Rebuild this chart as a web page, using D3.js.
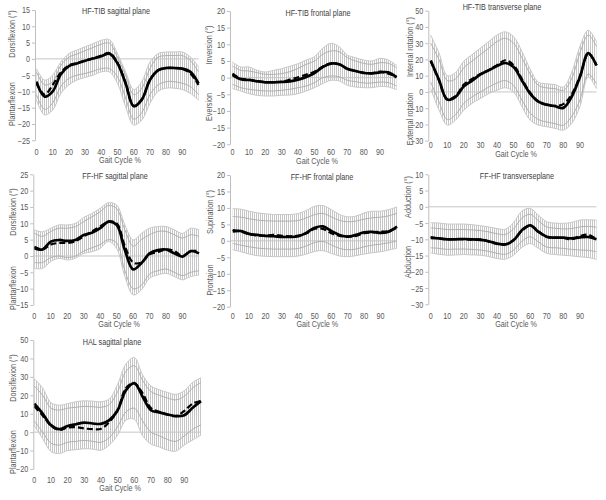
<!DOCTYPE html>
<html><head><meta charset="utf-8">
<script src="https://cdn.jsdelivr.net/npm/d3@7"></script>
<style>
body{margin:0;background:#fff}
svg{display:block}
text{font-family:"Liberation Sans",Arial,sans-serif}
</style>
</head><body>
<svg id="c" width="606" height="500"></svg>
<script>
// ---------- DATA ----------
const gaitCycle = [0,5,10,15,20,25,30,35,40,45,50,55,60,65,70,75,80,85,90,95,100];
const xTickLabels = [0,10,20,30,40,50,60,70,80,90];

// HF-TIB sagittal
const hfTibSagSolid  = [-7,-11.6,-10,-4.7,-2.2,-1.4,-0.6,0.1,0.8,1.6,-1.4,-7.5,-14.5,-12.5,-6.5,-3.5,-2.8,-2.8,-3,-4,-7.5];
const hfTibSagDashed = [-7.5,-11,-8,-4.2,-2,-1.3,-0.5,0.2,1.0,1.8,-1.2,-7.5,-14.5,-12.5,-6.5,-3.5,-2.8,-2.8,-3,-4.5,-8];
const hfTibSagUpper  = [-3,-6.5,-5,-1,1.6,2.7,3.7,4.7,5.7,5.9,1.6,-4,-9.4,-7,-1,1.6,2.1,2.1,2.1,0.6,-2.4];
const hfTibSagLower  = [-12.7,-17.2,-15.7,-10.6,-8,-6.5,-5.7,-5,-4,-4,-7.5,-14.7,-20.3,-18.8,-13.7,-10,-9,-9,-9.4,-10.6,-12.7];
const hfTibSagInUp   = [-4,-8,-7,-2,0.5,1.5,2.5,3.5,4.5,4.8,0.5,-5,-11,-9,-3,0.5,1,1,1,-0.5,-4];
const hfTibSagInLo   = [-11,-15.5,-13.5,-8.5,-6,-5,-4.5,-3.8,-3,-3,-5.5,-12,-18.5,-16.5,-11,-8,-7,-7,-7.5,-8.5,-11];

// HF-TIB frontal
const hfTibFroSolid  = [0.8,-0.5,-0.7,-1.1,-1.4,-1.4,-1.3,-1.1,-0.6,0.2,1.4,3.2,4.2,4.0,2.7,2.0,1.4,1.3,1.6,1.6,0.1];
const hfTibFroDashed = [1.2,-0.3,-0.6,-1.0,-1.3,-1.3,-1.2,-0.6,0.1,0.9,1.8,3.3,4.3,4.0,2.6,2.0,1.5,1.3,1.8,1.2,0.3];
const hfTibFroUpper  = [4.7,3.2,3.2,2.2,1.7,2.2,2.7,3.4,4.2,5.3,6.3,8.8,10.3,9.3,6.8,6,5.3,5,5.8,5.3,3.7];
const hfTibFroLower  = [-3.3,-4,-4.8,-5.3,-5.5,-5.5,-5.3,-5.2,-4.8,-4,-3,-1.8,-0.8,-1,-2.3,-2.8,-3,-3,-2.6,-2.8,-3.6];
const hfTibFroInUp   = [3.5,2.2,2,1.5,1,1,1.2,1.8,2.8,4,5,7,8,7.8,6,5,4.3,4,4.5,4.3,3];
const hfTibFroInLo   = [-2,-3,-3.5,-3.8,-4,-4,-3.8,-3.5,-3,-2.5,-1.5,0,0.5,0.3,-0.8,-1.2,-1.6,-1.6,-1.3,-1.5,-2.5];

// HF-TIB transverse
const hfTibTraSolid  = [19.4,7.5,-4.7,-3,3.5,7,10.8,13.3,16,17.8,15.3,7.1,-1,-6,-7.8,-8.8,-9.8,-3,9.2,23.9,16.3];
const hfTibTraDashed = [19,7,-4.5,-2.5,4.5,8,11,13.5,16.5,19.5,16.5,8,-0.5,-6,-8,-8.5,-7.5,-1.5,9.5,23.5,16.5];
const hfTibTraUpper  = [35,24,10,12,19,23,27,31,35,37,34,25,14,6,5,4.5,3,12,28,38,31];
const hfTibTraLower  = [2,-11,-20.4,-17.3,-11.2,-7,-4,-1,1,2.6,0,-9,-17.3,-20.4,-21.4,-22.4,-23.5,-19.4,-9,9.2,2];
const hfTibTraInUp   = [30,20,7,8,15,19,23,27,31,33,30,21,11,4,2.5,2,1,8,24,35,28];
const hfTibTraInLo   = [6,-6,-17,-14,-7,-3,0,3,5.5,7,4,-5,-13,-17,-18.5,-19.5,-20.5,-15,-5,11,5];

// FF-HF sagittal
const ffHfSagSolid  = [2.4,2.0,4.4,4.9,4.6,4.9,6.4,7.1,8.5,10.5,9.5,1.8,-4.1,-2.2,0.8,1.8,2,0.8,-0.2,1.5,0.8];
const ffHfSagDashed = [2.8,2,3.5,4,4,4.5,6,7.5,9,10.5,10,3,-2,-2,0.5,1.2,2,1.5,0,1.5,1.5];
const ffHfSagUpper  = [8,7.4,8.5,9.5,9.5,10,11.8,13,14.6,16.3,15.6,9.5,4.9,6.9,8.5,9,9,8,6.9,8.5,8];
const ffHfSagLower  = [-3.8,-3.8,-1.7,-0.7,-1.2,-0.7,0.8,1.3,2.3,4.4,2.3,-6.3,-11.9,-10.4,-6.8,-5.8,-5.3,-6.3,-7.3,-6.3,-5.8];
const ffHfSagInUp   = [7,6,7.5,8.5,8.5,9,10.5,12,13.5,15.5,14.5,8,3,5,6.5,7.5,7.5,6.5,5.5,6.5,6];
const ffHfSagInLo   = [-2,-2,-0.5,0,-0.5,0,1.5,2.5,3.5,5,4,-4.5,-10,-9,-5.5,-4.5,-4,-5,-6,-5,-4.5];

// FF-HF frontal
const ffHfFroSolid  = [2.9,3.0,2.1,1.8,1.5,1.4,1.2,1.2,1.4,2.5,4.0,4.4,3.0,1.8,1.3,1.8,2.6,2.7,2.4,2.8,4.3];
const ffHfFroDashed = [3.3,2.8,2.0,1.6,1.6,1.8,1.5,1.4,1.6,2.3,3.7,3.6,2.3,1.5,1.3,1.5,2.3,2.6,2.8,3.0,4.0];
const ffHfFroUpper  = [9.8,9.6,9,8.5,8.2,8,8,8,8.3,9.3,10.5,10.7,9.5,8,7.3,7.5,8.5,9,9,9.5,10.3];
const ffHfFroLower  = [-2.7,-3.3,-4,-4.5,-4.7,-4.8,-4.8,-4.8,-4.6,-4,-3.2,-3,-3.8,-4.6,-4.8,-4.5,-4,-3.6,-3.3,-2.8,-2.2];
const ffHfFroInUp   = [7.4,7.2,6.7,6.3,6.1,6,6,6,6.2,7,8,8.3,7.3,6.2,5.8,6,6.6,7,7.2,7.6,8.4];
const ffHfFroInLo   = [-0.8,-1.3,-1.8,-2.2,-2.4,-2.5,-2.5,-2.5,-2.3,-1.5,-0.5,-0.2,-1.2,-2.3,-2.7,-2.5,-1.8,-1.3,-1,-0.6,0];

// FF-HF transverse
const ffHfTraSolid  = [-9.6,-9.7,-10,-10,-9.9,-10,-10.2,-10.6,-11.3,-11.6,-10.3,-7.2,-5.7,-7.7,-9.2,-9.5,-9.5,-9.7,-9.4,-9.3,-10];
const ffHfTraDashed = [-9.3,-9.7,-10,-9.9,-10,-10.1,-10,-10.7,-11.4,-11.5,-10.2,-7.4,-5.8,-7.6,-9.3,-9.5,-9.6,-10,-9.0,-8.6,-10];
const ffHfTraUpper  = [-4.9,-5,-5.3,-5.3,-5.3,-5.5,-5.8,-6.2,-6.7,-6.9,-4.8,-1.3,-0.5,-2.6,-4.6,-5,-5.1,-4.8,-4.1,-4,-4.1];
const ffHfTraLower  = [-14.2,-14.6,-14.9,-14.8,-14.7,-14.8,-14.9,-15.3,-15.9,-16.1,-14.9,-12.5,-11.3,-12.8,-14.3,-14.7,-14.9,-15.1,-15.4,-15.6,-16.2];
const ffHfTraInUp   = [-6.5,-6.7,-7,-7,-7,-7.1,-7.3,-7.7,-8.3,-8.5,-6.8,-3.5,-2.3,-4.3,-6.2,-6.6,-6.8,-6.7,-6.2,-6,-6.3];
const ffHfTraInLo   = [-12.6,-12.8,-13.1,-13,-13,-13.1,-13.3,-13.7,-14.3,-14.6,-13.3,-10.6,-9.2,-10.8,-12.4,-12.6,-12.8,-13.1,-13.3,-13.4,-13.8];

// HAL sagittal
const halSagSolid  = [15.5,10.1,3.8,1.6,3.3,4.3,5.2,4.7,4.5,6.5,11.9,22.8,26.6,19.2,11.9,10.7,9.6,8.7,9.2,13.2,16.8];
const halSagDashed = [14,9,3.5,1.2,2.5,2.7,2,1.6,1.8,5.5,12,24,26.5,21,13,11,9.5,8.7,11.5,15.5,17];
const halSagUpper  = [29,24,16,14.6,15.5,16.5,17,16.8,16.5,18,26,37,40.5,31,25,23,21.5,20.5,22.5,27,29.5];
const halSagLower  = [3.5,-3.5,-10.5,-11.6,-10,-9.5,-9,-9.2,-9.8,-7,-1.6,6.5,7,-2,-6.5,-8,-9.8,-10.3,-7,-4.3,-1.6];
const halSagInUp   = [25,20,13,12,13,13.5,14,13.8,13.5,15,22,33,36,28,22,20,18.5,17.5,19.5,24,27];
const halSagInLo   = [6,0,-6,-7,-5.5,-5,-4.5,-5,-5.5,-3,3,11,13,6,0,-2,-4,-5,-2,1.5,4];

// ---------- LAYOUT ----------
const panels = [
 {title:"HF-TIB sagittal plane", yTop:"Dorsiflexion  (°)", yBot:"Plantarflexion",
  solid:hfTibSagSolid, dashed:hfTibSagDashed, up:hfTibSagUpper, lo:hfTibSagLower, inUp:hfTibSagInUp, inLo:hfTibSagInLo,
  xr:[36.5,198.5], yd:[-25,15], step:5, yr:[140.3,10], ax:35, xl:152, xt:160.5, tt:[116,11.5], yx:12, yTopC:34, yBotC:104},
 {title:"HF-TIB frontal plane", yTop:"Inversion  (°)", yBot:"Eversion",
  solid:hfTibFroSolid, dashed:hfTibFroDashed, up:hfTibFroUpper, lo:hfTibFroLower, inUp:hfTibFroInUp, inLo:hfTibFroInLo,
  xr:[232.5,396.5], yd:[-20,20], step:5, yr:[144.3,11], ax:230, xl:152.5, xt:161, tt:[318,13.5], yx:209, yTopC:45, yBotC:107},
 {title:"HF-TIB transverse plane", yTop:"Internal rotation (°)", yBot:"External rotation",
  solid:hfTibTraSolid, dashed:hfTibTraDashed, up:hfTibTraUpper, lo:hfTibTraLower, inUp:hfTibTraInUp, inLo:hfTibTraInLo,
  xr:[430.7,596.5], yd:[-30,50], step:10, yr:[140.7,10.7], ax:428.3, xl:145.5, xt:154, tt:[502,7.5], yx:410, yTopC:47, yBotC:119},
 {title:"FF-HF sagittal plane", yTop:"Dorsiflexion  (°)", yBot:"Plantarflexion",
  solid:ffHfSagSolid, dashed:ffHfSagDashed, up:ffHfSagUpper, lo:ffHfSagLower, inUp:ffHfSagInUp, inLo:ffHfSagInLo,
  xr:[34.3,199], yd:[-15,25], step:5, yr:[305,174.3], ax:33.3, xl:316, xt:324.5, tt:[115,176], yx:13, yTopC:212, yBotC:288},
 {title:"FF-HF frontal plane", yTop:"Supination (°)", yBot:"Prontaion",
  solid:ffHfFroSolid, dashed:ffHfFroDashed, up:ffHfFroUpper, lo:ffHfFroLower, inUp:ffHfFroInUp, inLo:ffHfFroInLo,
  xr:[232.7,397], yd:[-20,20], step:5, yr:[306.7,175], ax:230, xl:316, xt:324.5, tt:[322,177.5], yx:210, yTopC:212, yBotC:280},
 {title:"FF-HF transverseplane", yTop:"Adduction  (°)", yBot:"Abduction",
  solid:ffHfTraSolid, dashed:ffHfTraDashed, up:ffHfTraUpper, lo:ffHfTraLower, inUp:ffHfTraInUp, inLo:ffHfTraInLo,
  xr:[430.7,596.5], yd:[-30,10], step:5, yr:[304.3,174.3], ax:428.3, xl:316, xt:324.5, tt:[517,176], yx:408.3, yTopC:197, yBotC:262},
 {title:"HAL sagittal plane", yTop:"Dorsiflexion  (°)", yBot:"Plantarflexion",
  solid:halSagSolid, dashed:halSagDashed, up:halSagUpper, lo:halSagLower, inUp:halSagInUp, inLo:halSagInLo,
  xr:[34.3,201], yd:[-20,50], step:10, yr:[469,340], ax:33.3, xl:480, xt:488.5, tt:[112,342.5], yx:13.3, yTopC:378, yBotC:452}
];

const svg = d3.select("#c");
const defs = svg.append("defs");
const pat = defs.append("pattern").attr("id","hatch").attr("patternUnits","userSpaceOnUse")
  .attr("width",2).attr("height",4);
pat.append("rect").attr("width",2).attr("height",4).attr("fill","#fff");
pat.append("rect").attr("x",0).attr("width",1).attr("height",4).attr("fill","#c6c6c6");

const txtCol = "#595959";
const FS = "8.5px";
const curve = d3.curveCatmullRom.alpha(0.5);
// narrow the Arial-metric font to Calibri-like width
function narrow(sel){
  sel.each(function(){
    const w = this.getComputedTextLength();
    d3.select(this).attr("textLength", (w*0.85).toFixed(2)).attr("lengthAdjust","spacingAndGlyphs");
  });
}

panels.forEach(p => {
  const g = svg.append("g");
  const x = d3.scaleLinear().domain([0,100]).range(p.xr);
  const y = d3.scaleLinear().domain(p.yd).range(p.yr);
  const idx = d3.range(gaitCycle.length);

  g.append("path")
    .attr("d", d3.area().curve(curve).x(i=>x(gaitCycle[i])).y0(i=>y(p.lo[i])).y1(i=>y(p.up[i]))(idx))
    .attr("fill","url(#hatch)");
  g.append("line").attr("x1",p.ax).attr("x2",x(100)).attr("y1",y(0)).attr("y2",y(0))
    .attr("stroke","#c6c6c6").attr("stroke-width",1);
  const ln = arr => d3.line().curve(curve).x(i=>x(gaitCycle[i])).y(i=>y(arr[i]))(idx);
  [p.up,p.lo].forEach(a => g.append("path").attr("d",ln(a)).attr("fill","none")
    .attr("stroke","#c8c8c8").attr("stroke-width",1));
  [p.inUp,p.inLo].forEach(a => g.append("path").attr("d",ln(a)).attr("fill","none")
    .attr("stroke","#aaaaaa").attr("stroke-width",0.9));
  g.append("path").attr("d",ln(p.solid)).attr("fill","none")
    .attr("stroke","#000").attr("stroke-width",2.7).attr("stroke-linejoin","round");
  g.append("path").attr("d",ln(p.dashed)).attr("fill","none")
    .attr("stroke","#000").attr("stroke-width",2.2).attr("stroke-dasharray","6,3");

  // y axis
  const ticks = d3.range(p.yd[0], p.yd[1]+0.001, p.step);
  const ya = g.append("g").attr("transform",`translate(${p.ax},0)`)
    .call(d3.axisLeft(y).tickValues(ticks).tickSize(3).tickSizeOuter(0).tickPadding(2));
  ya.select(".domain").attr("stroke","#bfbfbf");
  ya.selectAll(".tick line").attr("stroke","#bfbfbf");
  ya.selectAll("text").attr("fill",txtCol).attr("dy","0.35em")
    .style("font-size",FS).style("font-family","'Liberation Sans',Arial,sans-serif").call(narrow);

  // x tick labels (category labels placed low)
  g.append("g").selectAll("text").data(xTickLabels).join("text")
    .attr("x", d => x(d)).attr("y", p.xl).attr("dy","0.35em")
    .attr("text-anchor","middle").attr("fill",txtCol).style("font-size",FS)
    .text(d => d).call(narrow);

  g.append("text").attr("x",x(50)+2.5).attr("y",p.xt).attr("dy","0.35em").attr("text-anchor","middle")
    .attr("fill",txtCol).style("font-size",FS).text("Gait Cycle %").call(narrow);
  g.append("text").attr("x",p.tt[0]).attr("y",p.tt[1]).attr("dy","0.35em").attr("text-anchor","middle")
    .attr("fill","#404040").style("font-size",FS).text(p.title).call(narrow);
  [[p.yTop,p.yTopC],[p.yBot,p.yBotC]].forEach(([t,c]) =>
    g.append("text").attr("transform",`translate(${p.yx},${c}) rotate(-90)`)
      .attr("text-anchor","middle").attr("dy","0.35em")
      .attr("fill",txtCol).style("font-size",FS).text(t).call(narrow));
});
</script>
</body></html>
